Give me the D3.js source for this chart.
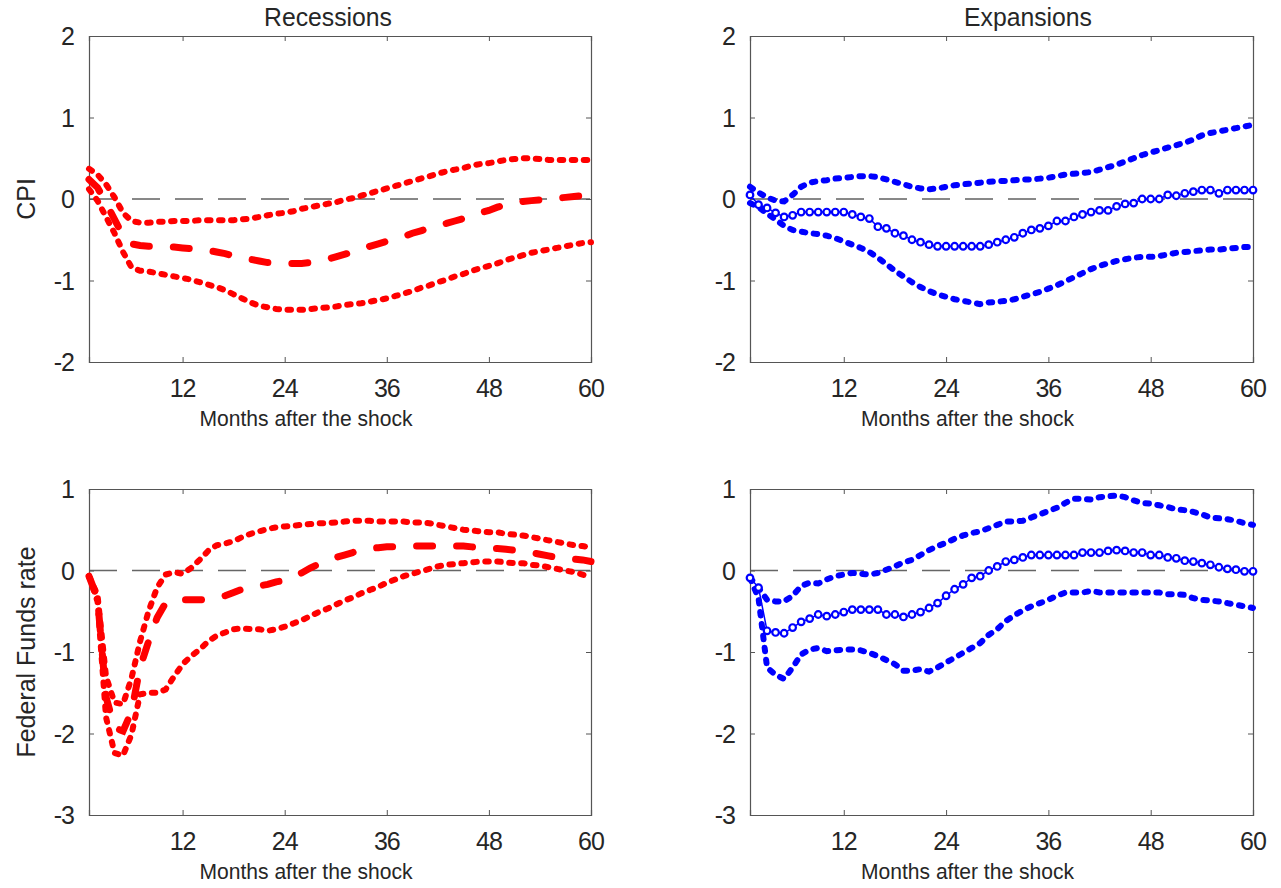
<!DOCTYPE html>
<html><head><meta charset="utf-8">
<script src="https://cdn.jsdelivr.net/npm/d3@7"></script>
<style>body{margin:0;background:#fff}svg{display:block}text{font-family:"Liberation Sans",Arial,sans-serif;fill:#262626}</style>
</head><body><svg id="c" width="1281" height="888"></svg>
<script>
const months = d3.range(1, 61);
const xTicks = [12, 24, 36, 48, 60];
const cpiTicks = [-2, -1, 0, 1, 2];
const ffrTicks = [-3, -2, -1, 0, 1];
const colTitles = ["Recessions", "Expansions"];
const rowLabels = ["CPI", "Federal Funds rate"];
const xLabel = "Months after the shock";

const recCpiUp = [0.37,0.30,0.18,0.02,-0.17,-0.27,-0.29,-0.29,-0.28,-0.28,-0.27,-0.27,-0.27,-0.26,-0.26,-0.26,-0.26,-0.26,-0.25,-0.24,-0.22,-0.20,-0.18,-0.17,-0.15,-0.12,-0.10,-0.08,-0.06,-0.04,-0.01,0.01,0.04,0.07,0.10,0.13,0.16,0.19,0.22,0.25,0.28,0.31,0.34,0.36,0.38,0.41,0.43,0.44,0.46,0.48,0.49,0.50,0.50,0.49,0.48,0.48,0.48,0.48,0.48,0.48];
const recCpiMed = [0.24,0.14,-0.05,-0.25,-0.45,-0.55,-0.57,-0.58,-0.58,-0.59,-0.59,-0.60,-0.61,-0.62,-0.63,-0.65,-0.67,-0.70,-0.72,-0.74,-0.76,-0.78,-0.78,-0.79,-0.79,-0.79,-0.78,-0.76,-0.74,-0.71,-0.68,-0.65,-0.62,-0.58,-0.55,-0.52,-0.49,-0.46,-0.42,-0.39,-0.36,-0.33,-0.30,-0.27,-0.24,-0.20,-0.17,-0.14,-0.10,-0.07,-0.05,-0.03,-0.02,-0.01,0.00,0.01,0.02,0.03,0.04,0.05];
const recCpiLo = [0.12,-0.02,-0.22,-0.42,-0.65,-0.84,-0.88,-0.89,-0.91,-0.93,-0.95,-0.97,-0.99,-1.02,-1.05,-1.08,-1.12,-1.17,-1.22,-1.27,-1.31,-1.33,-1.35,-1.36,-1.36,-1.36,-1.35,-1.34,-1.33,-1.32,-1.30,-1.29,-1.28,-1.26,-1.24,-1.22,-1.19,-1.16,-1.13,-1.09,-1.06,-1.02,-0.99,-0.95,-0.92,-0.88,-0.85,-0.82,-0.79,-0.75,-0.72,-0.69,-0.66,-0.64,-0.62,-0.60,-0.58,-0.56,-0.54,-0.53];

const expCpiUp = [0.15,0.08,0.02,-0.02,-0.03,0.05,0.15,0.20,0.22,0.23,0.25,0.26,0.27,0.28,0.28,0.27,0.24,0.21,0.18,0.15,0.13,0.12,0.13,0.15,0.17,0.18,0.19,0.20,0.21,0.22,0.22,0.23,0.24,0.24,0.25,0.26,0.28,0.30,0.31,0.32,0.33,0.36,0.39,0.42,0.46,0.50,0.54,0.57,0.60,0.63,0.66,0.69,0.73,0.78,0.81,0.83,0.85,0.87,0.89,0.91];
const expCpiMed = [0.05,-0.07,-0.11,-0.17,-0.22,-0.20,-0.16,-0.16,-0.16,-0.16,-0.16,-0.16,-0.19,-0.22,-0.24,-0.34,-0.36,-0.42,-0.45,-0.50,-0.53,-0.56,-0.58,-0.58,-0.58,-0.58,-0.58,-0.58,-0.56,-0.53,-0.50,-0.47,-0.42,-0.38,-0.36,-0.33,-0.27,-0.27,-0.22,-0.19,-0.16,-0.14,-0.14,-0.09,-0.06,-0.05,0.00,0.00,0.00,0.05,0.04,0.07,0.09,0.11,0.11,0.07,0.11,0.11,0.11,0.11];
const expCpiLo = [-0.05,-0.10,-0.18,-0.25,-0.33,-0.38,-0.40,-0.42,-0.43,-0.45,-0.48,-0.52,-0.56,-0.60,-0.65,-0.72,-0.80,-0.88,-0.95,-1.02,-1.08,-1.13,-1.17,-1.20,-1.23,-1.25,-1.27,-1.29,-1.27,-1.26,-1.25,-1.23,-1.20,-1.17,-1.14,-1.10,-1.06,-1.01,-0.96,-0.91,-0.86,-0.82,-0.79,-0.76,-0.74,-0.72,-0.71,-0.71,-0.70,-0.68,-0.66,-0.65,-0.64,-0.63,-0.62,-0.62,-0.61,-0.60,-0.59,-0.59];

const recFfrUp = [-0.07,-0.30,-1.30,-1.62,-1.64,-1.32,-0.87,-0.50,-0.21,-0.05,-0.02,-0.04,0.03,0.13,0.24,0.31,0.33,0.36,0.41,0.45,0.48,0.51,0.53,0.54,0.55,0.56,0.57,0.58,0.58,0.59,0.60,0.61,0.61,0.61,0.60,0.60,0.60,0.60,0.59,0.59,0.58,0.56,0.54,0.52,0.50,0.49,0.48,0.47,0.47,0.45,0.44,0.43,0.41,0.39,0.37,0.35,0.33,0.31,0.30,0.28];
const recFfrMed = [-0.07,-0.34,-1.55,-1.93,-1.97,-1.73,-1.19,-0.87,-0.58,-0.40,-0.36,-0.36,-0.36,-0.36,-0.35,-0.34,-0.31,-0.27,-0.23,-0.20,-0.19,-0.17,-0.14,-0.12,-0.07,-0.03,0.03,0.08,0.12,0.16,0.19,0.22,0.25,0.27,0.28,0.29,0.29,0.30,0.30,0.30,0.30,0.30,0.30,0.30,0.30,0.29,0.28,0.27,0.27,0.26,0.25,0.24,0.22,0.20,0.18,0.16,0.16,0.14,0.13,0.11];
const recFfrLo = [-0.07,-0.38,-1.80,-2.24,-2.27,-2.01,-1.52,-1.50,-1.50,-1.46,-1.30,-1.15,-1.05,-0.97,-0.87,-0.80,-0.76,-0.72,-0.71,-0.72,-0.72,-0.74,-0.72,-0.69,-0.65,-0.61,-0.56,-0.51,-0.47,-0.42,-0.37,-0.33,-0.28,-0.24,-0.20,-0.15,-0.11,-0.07,-0.04,-0.01,0.02,0.05,0.07,0.08,0.09,0.10,0.11,0.11,0.11,0.10,0.09,0.09,0.07,0.06,0.04,0.02,0.00,-0.02,-0.05,-0.08];

const expFfrUp = [-0.09,-0.21,-0.36,-0.38,-0.38,-0.31,-0.19,-0.15,-0.16,-0.11,-0.07,-0.05,-0.03,-0.04,-0.05,-0.03,0.01,0.05,0.10,0.13,0.19,0.25,0.30,0.34,0.39,0.43,0.46,0.48,0.52,0.56,0.60,0.60,0.61,0.65,0.69,0.73,0.77,0.83,0.88,0.88,0.87,0.90,0.91,0.92,0.90,0.86,0.83,0.82,0.80,0.78,0.75,0.74,0.72,0.69,0.65,0.64,0.63,0.61,0.58,0.56];
const expFfrMed = [-0.09,-0.21,-0.74,-0.76,-0.77,-0.70,-0.63,-0.59,-0.54,-0.56,-0.54,-0.51,-0.48,-0.48,-0.48,-0.48,-0.54,-0.54,-0.57,-0.54,-0.51,-0.46,-0.40,-0.31,-0.23,-0.17,-0.09,-0.07,0.00,0.05,0.11,0.13,0.16,0.19,0.19,0.19,0.19,0.19,0.19,0.22,0.22,0.22,0.24,0.25,0.24,0.22,0.22,0.19,0.19,0.16,0.15,0.12,0.11,0.09,0.07,0.04,0.02,0.01,-0.01,-0.01];
const expFfrLo = [-0.09,-0.34,-1.19,-1.28,-1.33,-1.19,-1.03,-0.97,-0.95,-0.99,-0.98,-0.97,-0.97,-0.98,-1.01,-1.05,-1.10,-1.15,-1.23,-1.23,-1.21,-1.24,-1.19,-1.13,-1.07,-1.01,-0.95,-0.89,-0.79,-0.72,-0.62,-0.55,-0.49,-0.44,-0.40,-0.36,-0.31,-0.27,-0.27,-0.27,-0.25,-0.27,-0.27,-0.27,-0.27,-0.27,-0.27,-0.27,-0.27,-0.29,-0.29,-0.30,-0.34,-0.36,-0.37,-0.38,-0.40,-0.42,-0.44,-0.46];

const RED = "#ff0000", BLUE = "#0000ff";
const panels = [
  {x0:89, x1:591, y0:36, y1:362, dom:[-2,2], ticks:cpiTicks, up:recCpiUp, med:recCpiMed, lo:recCpiLo, color:RED, kind:"rec", title:colTitles[0], ylab:rowLabels[0], zc:"#111", zw:1},
  {x0:750, x1:1253, y0:36, y1:362, dom:[-2,2], ticks:cpiTicks, up:expCpiUp, med:expCpiMed, lo:expCpiLo, color:BLUE, kind:"exp", title:colTitles[1], zc:"#111", zw:1},
  {x0:89, x1:591, y0:489, y1:815, dom:[-3,1], ticks:ffrTicks, up:recFfrUp, med:recFfrMed, lo:recFfrLo, color:RED, kind:"rec", ylab:rowLabels[1], zc:"#666", zw:1.5},
  {x0:750, x1:1253, y0:489, y1:815, dom:[-3,1], ticks:ffrTicks, up:expFfrUp, med:expFfrMed, lo:expFfrLo, color:BLUE, kind:"exp", zc:"#666", zw:1.5}
];

const svg = d3.select("#c");
panels.forEach(p => {
  const x = d3.scaleLinear().domain([1,60]).range([p.x0,p.x1]);
  const y = d3.scaleLinear().domain(p.dom).range([p.y1,p.y0]);
  const g = svg.append("g");
  const clipId = "clip" + p.x0 + "_" + p.y0;
  svg.append("clipPath").attr("id", clipId).append("rect")
    .attr("x", p.x0-6).attr("y", p.y0).attr("width", p.x1-p.x0+12).attr("height", p.y1-p.y0);

  g.append("line").attr("x1", x(1)).attr("x2", x(60)).attr("y1", y(0)).attr("y2", y(0))
    .attr("stroke", p.zc).attr("stroke-width", p.zw).attr("stroke-dasharray", "28,15");

  const tl = -5;
  const axB = d3.axisBottom(x).tickValues(xTicks).tickSize(tl).tickFormat("");
  const axT = d3.axisTop(x).tickValues(xTicks).tickSize(tl).tickFormat("");
  const axL = d3.axisLeft(y).tickValues(p.ticks).tickSize(tl).tickFormat("");
  const axR = d3.axisRight(y).tickValues(p.ticks).tickSize(tl).tickFormat("");
  [[axB,`translate(0,${p.y1})`],[axT,`translate(0,${p.y0})`],[axL,`translate(${p.x0},0)`],[axR,`translate(${p.x1},0)`]].forEach(([a,t]) => {
    const ag = g.append("g").attr("transform", t).call(a);
    ag.select(".domain").attr("stroke", "#555").attr("stroke-width", 1.2);
    ag.selectAll(".tick line").attr("stroke", "#555");
  });

  g.selectAll(null).data(xTicks).enter().append("text")
    .attr("x", d => x(d)).attr("y", p.y1 + 35).attr("text-anchor", "middle")
    .attr("font-size", 25).attr("letter-spacing", -1).text(d => d);
  g.selectAll(null).data(p.ticks).enter().append("text")
    .attr("x", p.x0 - 15).attr("y", d => y(d)).attr("dy", "0.36em").attr("text-anchor", "end")
    .attr("font-size", 25).attr("letter-spacing", -1).text(d => d);

  g.append("text").attr("x", (p.x0+p.x1)/2 - 34).attr("y", p.y1 + 64).attr("text-anchor", "middle")
    .attr("font-size", 22).attr("textLength", 213).attr("lengthAdjust", "spacingAndGlyphs").text(xLabel);

  if (p.title) {
    const cx = p.kind === "rec" ? 328 : 1028;
    g.append("text").attr("x", cx).attr("y", 26).attr("text-anchor", "middle")
      .attr("font-size", 25).attr("textLength", 128).attr("lengthAdjust", "spacingAndGlyphs").text(p.title);
  }
  if (p.ylab) {
    g.append("text").attr("transform", `translate(35,${(p.y0+p.y1)/2}) rotate(-90)`).attr("text-anchor", "middle")
      .attr("font-size", 25).text(p.ylab);
  }

  const line = d3.line().x((d,i) => x(months[i])).y(d => y(d));
  const cg = g.append("g").attr("clip-path", `url(#${clipId})`);
  [p.up, p.lo].forEach(arr => {
    cg.append("path").attr("d", line(arr)).attr("fill", "none").attr("stroke", p.color)
      .attr("stroke-width", 6).attr("stroke-linecap", "round").attr("stroke-dasharray", "3.5,8.5");
  });
  if (p.kind === "rec") {
    cg.append("path").attr("d", line(p.med)).attr("fill", "none").attr("stroke", p.color)
      .attr("stroke-width", 7).attr("stroke-linecap", "round").attr("stroke-dasharray", "16,24");
  } else {
    cg.append("path").attr("d", line(p.med)).attr("fill", "none").attr("stroke", p.color).attr("stroke-width", 1.5);
    cg.selectAll(null).data(p.med).enter().append("circle")
      .attr("cx", (d,i) => x(months[i])).attr("cy", d => y(d)).attr("r", 3.3)
      .attr("fill", "#fff").attr("stroke", p.color).attr("stroke-width", 2.2);
  }
});
</script></body></html>
